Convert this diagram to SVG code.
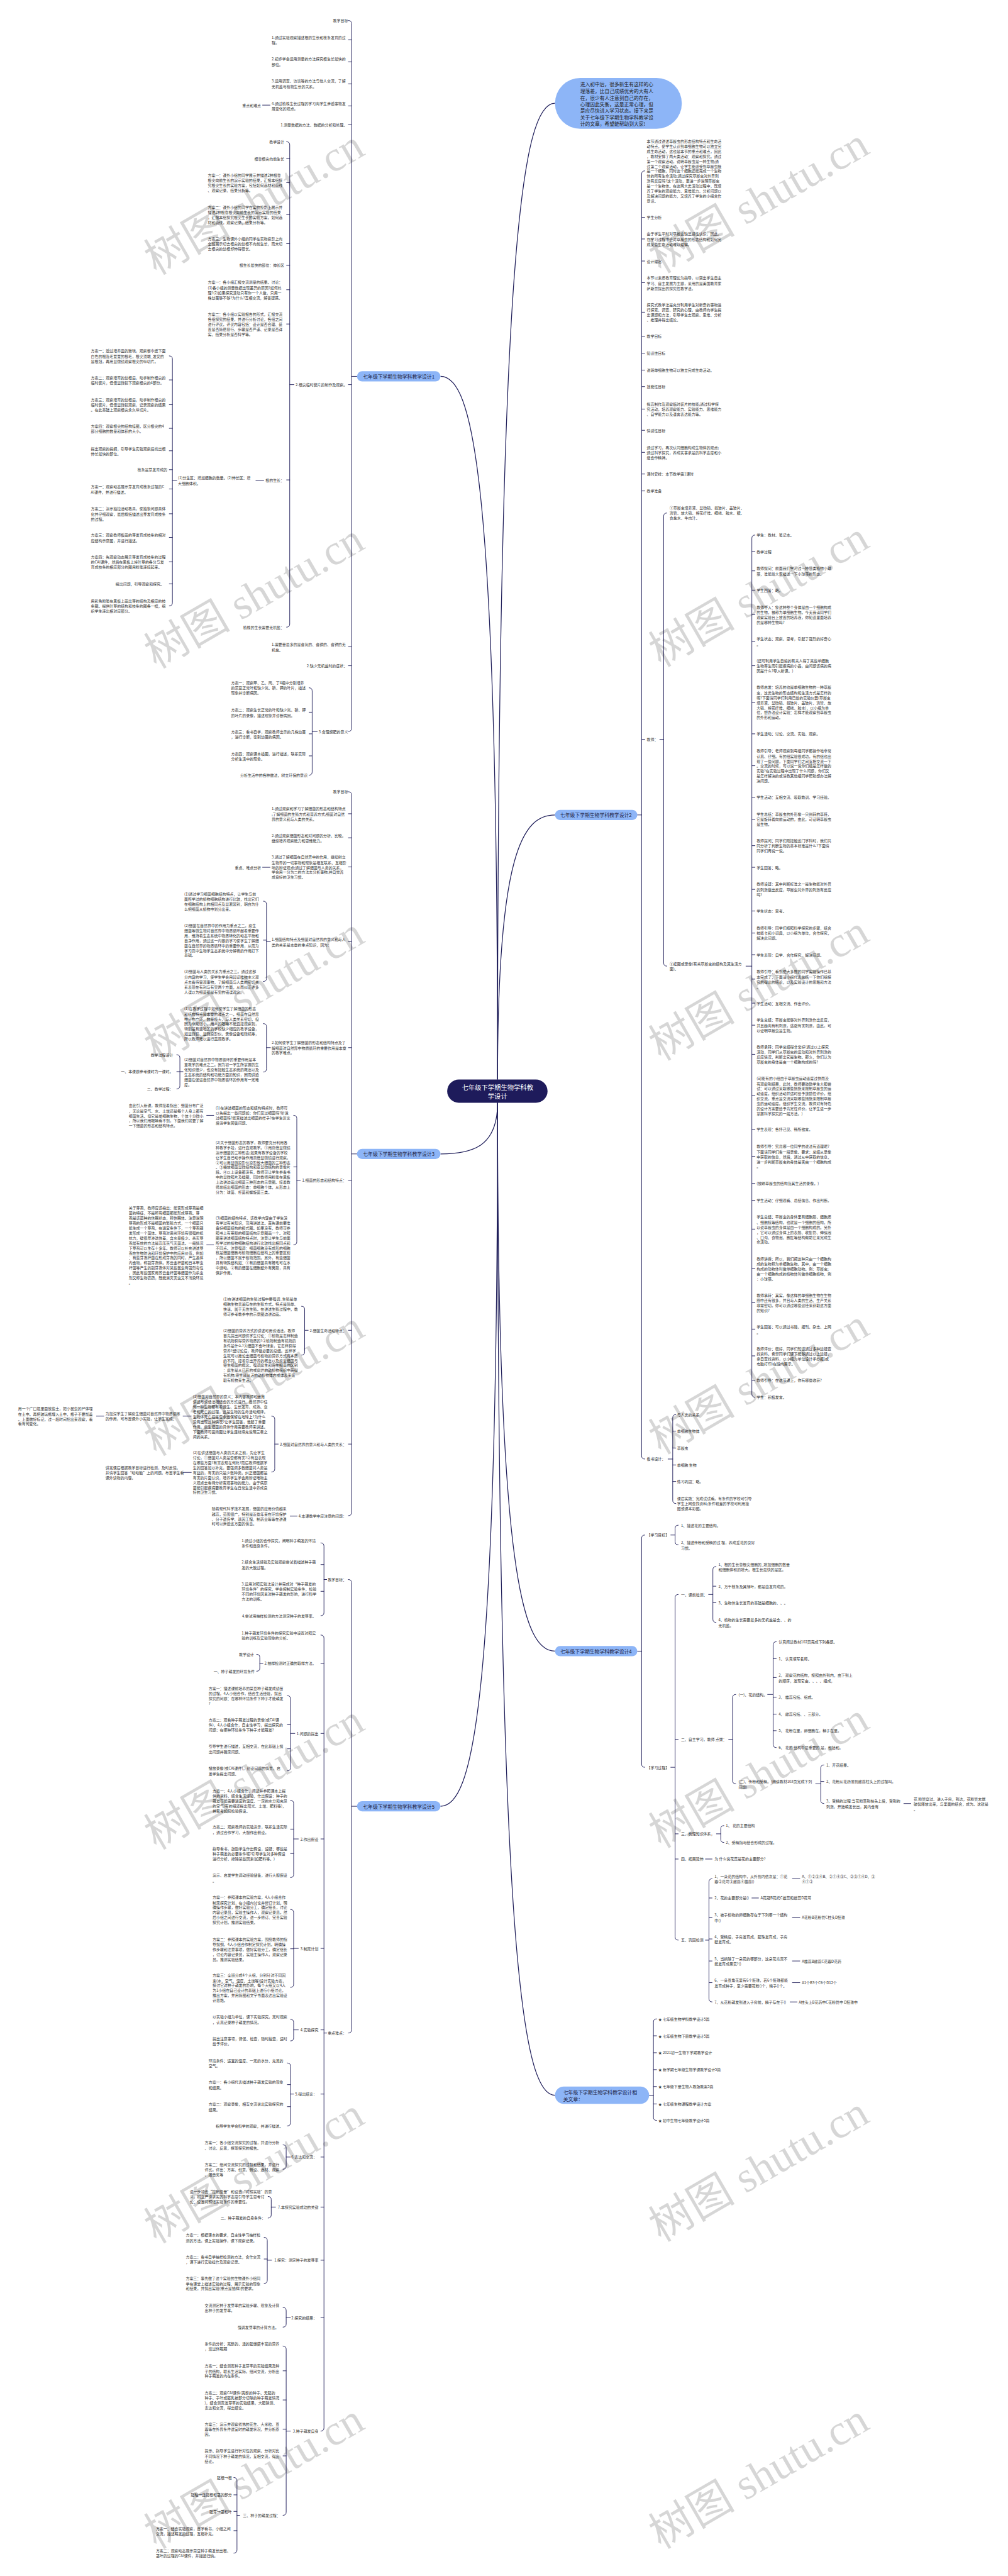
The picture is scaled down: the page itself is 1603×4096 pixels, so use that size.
<svg xmlns="http://www.w3.org/2000/svg" width="1603" height="4096" viewBox="0 0 1603 4096">
<style>
.t{font-family:"Noto Sans CJK SC","Noto Sans",sans-serif;font-size:9.5px;fill:#333;dominant-baseline:central}
.e{text-anchor:end}
.n{font-family:"Noto Sans CJK SC",sans-serif;font-size:12.5px;fill:#1d1d3f;text-anchor:middle;dominant-baseline:central}
.c{font-family:"Noto Sans CJK SC",sans-serif;font-size:16.5px;fill:#fff;text-anchor:middle;dominant-baseline:central}
.i{font-family:"Noto Sans CJK SC",sans-serif;font-size:12.4px;fill:#222;dominant-baseline:central}
.nd{fill:#8db5f7}
.br{fill:none;stroke:#1f1e5a;stroke-width:1.5;stroke-linecap:round}
.cv{fill:none;stroke:#1f1e5a;stroke-width:2}
.wm{font-family:"Liberation Serif","Noto Sans CJK SC",serif;font-size:110px;fill:#000;fill-opacity:0.16;text-anchor:middle;dominant-baseline:central}
</style>
<rect width="1603" height="4096" fill="#fff"/>
<g transform="scale(0.626)">

<g id="connectors">
<path class="cv" d="M1119,956 C1200,956 1264,1201 1264,2742"/>
<path class="cv" d="M1410,262 C1329,262 1264,602 1264,2742"/>
<path class="cv" d="M1410,2070 C1329,2070 1264,2162 1264,2742"/>
<path class="cv" d="M1119,2931 C1200,2931 1264,2913 1264,2801"/>
<path class="cv" d="M1410,4194 C1329,4194 1264,4003 1264,2801"/>
<path class="cv" d="M1119,4588 C1200,4588 1264,4343 1264,2801"/>
<path class="cv" d="M1410,5322 C1329,5322 1264,4977 1264,2801"/>
<path class="br" d="M885,52 Q893,52 893,60 V1850 Q893,1858 885,1858 M885,101 H893 M885,157 H893 M885,213 H893 M885,269 H893 M885,317 H893 M885,977 H893 M885,1643 H893 M885,1691 H893 M893,956 H907"/>
<path class="br" d="M667,267 H686"/>
<path class="br" d="M728,360 Q736,360 736,368 V1585 Q736,1593 728,1593 M728,403 H736 M728,464 H736 M728,545 H736 M728,619 H736 M728,674 H736 M728,736 H736 M728,823 H736 M728,1219 H736 M736,977 H747"/>
<path class="br" d="M650,1220 H670"/>
<path class="br" d="M430,904 Q438,904 438,912 V1531 Q438,1539 430,1539 M430,965 H438 M430,1028 H438 M430,1088 H438 M430,1145 H438 M430,1193 H438 M430,1242 H438 M430,1305 H438 M430,1365 H438 M430,1427 H438 M430,1483 H438 M438,1220 H449"/>
<path class="br" d="M785,1747 Q793,1747 793,1755 V1961 Q793,1969 785,1969 M785,1809 H793 M785,1864 H793 M785,1920 H793 M793,1858 H806"/>
<path class="br" d="M885,2011 Q893,2011 893,2019 V3842 Q893,3850 885,3850 M885,2067 H893 M885,2128 H893 M885,2202 H893 M885,2392 H893 M885,2661 H893 M885,2998 H893 M885,3379 H893 M885,3668 H893 M893,2931 H907"/>
<path class="br" d="M667,2203 H686"/>
<path class="br" d="M669,2289 Q677,2289 677,2297 V2485 Q677,2493 669,2493 M669,2388 H677 M677,2392 H687"/>
<path class="br" d="M669,2600 Q677,2600 677,2608 V2715 Q677,2723 669,2723 M677,2661 H687"/>
<path class="br" d="M449,2679 Q457,2679 457,2687 V2758 Q457,2766 449,2766 M449,2722 H465"/>
<path class="br" d="M746,2833 Q754,2833 754,2841 V3154 Q754,3162 746,3162 M746,2964 H754 M754,2998 H763"/>
<path class="br" d="M525,2833 H543 M525,3162 H543"/>
<path class="br" d="M766,3318 Q774,3318 774,3326 V3434 Q774,3442 766,3442 M774,3379 H783"/>
<path class="br" d="M690,3597 Q698,3597 698,3605 V3731 Q698,3739 690,3739 M698,3668 H707"/>
<path class="br" d="M465,3597 H486 M245,3597 H264 M465,3740 H486 M737,3851 H755"/>
<path class="br" d="M885,4012 Q893,4012 893,4020 V5156 Q893,5164 885,5164 M893,4588 H907"/>
<path class="br" d="M815,3919 Q823,3919 823,3927 V4096 Q823,4104 815,4104 M815,3974 H823 M815,4042 H823 M823,4012 H830"/>
<path class="br" d="M815,4153 Q823,4153 823,4161 V6167 Q823,6175 815,6175 M815,4225 H823 M815,4403 H823 M815,4671 H823 M815,4949 H823 M815,5156 H823 M815,5319 H823 M815,5479 H823 M815,5606 H823 M815,5741 H823 M815,5887 H823 M823,5164 H830"/>
<path class="br" d="M652,4202 Q660,4202 660,4210 V4237 Q660,4245 652,4245 M660,4225 H668"/>
<path class="br" d="M730,4307 Q738,4307 738,4315 V4490 Q738,4498 730,4498 M730,4381 H738 M730,4442 H738 M738,4403 H749"/>
<path class="br" d="M738,4573 Q746,4573 746,4581 V4761 Q746,4769 738,4769 M738,4646 H746 M738,4708 H746 M746,4671 H758"/>
<path class="br" d="M738,4850 Q746,4850 746,4858 V5040 Q746,5048 738,5048 M738,4950 H746 M746,4949 H758"/>
<path class="br" d="M738,5129 Q746,5129 746,5137 V5176 Q746,5184 738,5184 M746,5156 H758"/>
<path class="br" d="M730,5240 Q738,5240 738,5248 V5392 Q738,5400 730,5400 M730,5295 H738 M730,5351 H738 M738,5319 H746"/>
<path class="br" d="M719,5448 Q727,5448 727,5456 V5502 Q727,5510 719,5510 M727,5479 H738"/>
<path class="br" d="M681,5579 Q689,5579 689,5587 V5626 Q689,5634 681,5634 M689,5606 H700"/>
<path class="br" d="M671,5683 Q679,5683 679,5691 V5792 Q679,5800 671,5800 M671,5738 H679 M679,5741 H690"/>
<path class="br" d="M719,5861 Q727,5861 727,5869 V5903 Q727,5911 719,5911 M727,5887 H738"/>
<path class="br" d="M719,5959 Q727,5959 727,5967 V6381 Q727,6389 719,6389 M719,6022 H727 M719,6096 H727 M719,6170 H727 M719,6238 H727 M727,6175 H738"/>
<path class="br" d="M594,6293 Q602,6293 602,6301 V6477 Q602,6485 594,6485 M594,6337 H602 M594,6379 H602 M594,6428 H602 M602,6389 H609"/>
<path class="br" d="M1638,434 Q1630,434 1630,442 V3698 Q1630,3706 1638,3706 M1630,552 H1638 M1630,607 H1638 M1630,663 H1638 M1630,718 H1638 M1630,793 H1638 M1630,854 H1638 M1630,897 H1638 M1630,940 H1638 M1630,982 H1638 M1630,1039 H1638 M1630,1093 H1638 M1630,1149 H1638 M1630,1204 H1638 M1630,1247 H1638 M1630,1878 H1638 M1619,2070 H1630"/>
<path class="br" d="M1694,1303 Q1686,1303 1686,1311 V2446 Q1686,2454 1694,2454 M1676,1878 H1686"/>
<path class="br" d="M1918,1359 Q1910,1359 1910,1367 V3541 Q1910,3549 1918,3549 M1910,1401 H1918 M1910,1450 H1918 M1910,1499 H1918 M1910,1561 H1918 M1910,1629 H1918 M1910,1691 H1918 M1910,1784 H1918 M1910,1864 H1918 M1910,1945 H1918 M1910,2025 H1918 M1910,2081 H1918 M1910,2148 H1918 M1910,2203 H1918 M1910,2259 H1918 M1910,2314 H1918 M1910,2370 H1918 M1910,2425 H1918 M1910,2487 H1918 M1910,2548 H1918 M1910,2604 H1918 M1910,2678 H1918 M1910,2783 H1918 M1910,2869 H1918 M1910,2937 H1918 M1910,3006 H1918 M1910,3049 H1918 M1910,3122 H1918 M1910,3222 H1918 M1910,3309 H1918 M1910,3376 H1918 M1910,3444 H1918 M1910,3506 H1918 M1895,2454 H1910"/>
<path class="br" d="M1717,3593 Q1709,3593 1709,3601 V3811 Q1709,3819 1717,3819 M1709,3635 H1717 M1709,3678 H1717 M1709,3721 H1717 M1709,3763 H1717 M1697,3706 H1709"/>
<path class="br" d="M1638,3899 Q1630,3899 1630,3907 V4481 Q1630,4489 1638,4489 M1619,4194 H1630"/>
<path class="br" d="M1723,3874 Q1715,3874 1715,3882 V3916 Q1715,3924 1723,3924 M1704,3899 H1715"/>
<path class="br" d="M1723,4050 Q1715,4050 1715,4058 V4920 Q1715,4928 1723,4928 M1715,4418 H1723 M1715,4658 H1723 M1715,4722 H1723 M1704,4489 H1715"/>
<path class="br" d="M1819,3979 Q1811,3979 1811,3987 V4113 Q1811,4121 1819,4121 M1811,4029 H1819 M1811,4071 H1819 M1800,4050 H1811"/>
<path class="br" d="M1869,4304 Q1861,4304 1861,4312 V4523 Q1861,4531 1869,4531 M1851,4418 H1861"/>
<path class="br" d="M1972,4170 Q1964,4170 1964,4178 V4431 Q1964,4439 1972,4439 M1964,4213 H1972 M1964,4261 H1972 M1964,4311 H1972 M1964,4354 H1972 M1964,4396 H1972 M1950,4304 H1964"/>
<path class="br" d="M2093,4483 Q2085,4483 2085,4491 V4573 Q2085,4581 2093,4581 M2085,4525 H2093 M2072,4531 H2085 M2296,4581 H2314"/>
<path class="br" d="M1839,4637 Q1831,4637 1831,4645 V4672 Q1831,4680 1839,4680 M1820,4658 H1831 M1792,4722 H1809"/>
<path class="br" d="M1809,4772 Q1801,4772 1801,4780 V5077 Q1801,5085 1809,5085 M1801,4821 H1809 M1801,4870 H1809 M1801,4925 H1809 M1801,4981 H1809 M1801,5036 H1809 M1792,4928 H1801"/>
<path class="br" d="M2013,4772 H2032 M1910,4821 H1927 M2013,4870 H2032 M2013,4981 H2032 M2013,5036 H2032 M2007,5085 H2025"/>
<path class="br" d="M1668,5128 Q1660,5128 1660,5136 V5378 Q1660,5386 1668,5386 M1660,5171 H1668 M1660,5214 H1668 M1660,5257 H1668 M1660,5300 H1668 M1660,5344 H1668 M1649,5322 H1660"/>
</g>

<g id="center"><rect x="1136" y="2742" width="255" height="59" rx="29.5" fill="#1e1b5b"/><text class="c" x="1264" y="2761">七年级下学期生物学科教</text><text class="c" x="1264" y="2783">学设计</text></g>
<g id="intro"><rect class="nd" x="1410" y="198" width="322" height="129" rx="64"/>
<text class="i" x="1474" y="214">进入初中后，很多新生有这样的心<tspan x="1474" dy="16.5">理落差，比自己成绩优秀的大有人</tspan><tspan x="1474" dy="16.5">在，很少有人注意到自己的存在，</tspan><tspan x="1474" dy="16.5">心理因此失衡，这是正常心理，但</tspan><tspan x="1474" dy="16.5">是应尽快进入学习状态。接下来是</tspan><tspan x="1474" dy="16.5">关于七年级下学期生物学科教学设</tspan><tspan x="1474" dy="16.5">计的文章，希望能帮助到大家!</tspan></text></g>
<g id="b1"><rect class="nd" x="907" y="943" width="212" height="26" rx="13"/><text class="n" x="1013" y="956">七年级下学期生物学科教学设计1</text></g>
<g id="b3"><rect class="nd" x="907" y="2918" width="212" height="26" rx="13"/><text class="n" x="1013" y="2931">七年级下学期生物学科教学设计3</text></g>
<g id="b5"><rect class="nd" x="907" y="4575" width="212" height="26" rx="13"/><text class="n" x="1013" y="4588">七年级下学期生物学科教学设计5</text></g>
<g id="b2"><rect class="nd" x="1410" y="2057" width="209" height="26" rx="13"/><text class="n" x="1514" y="2070">七年级下学期生物学科教学设计2</text></g>
<g id="b4"><rect class="nd" x="1410" y="4181" width="209" height="26" rx="13"/><text class="n" x="1514" y="4194">七年级下学期生物学科教学设计4</text></g>
<g id="b6"><rect class="nd" x="1410" y="5300" width="239" height="44" rx="22"/><text class="n" style="text-anchor:start" x="1431" y="5314">七年级下学期生物学科教学设计相<tspan x="1431" dy="16.5">关文章：</tspan></text></g>

<g id="branch1-items">
<text class="t e" x="884" y="52">教学目标</text>
<text class="t" x="690" y="95">1.通过实验观察描述根的生长和枝条发育的过<tspan x="690" dy="12.6">程。</tspan></text>
<text class="t" x="690" y="150">2.初步学会运用测量的方法探究根生长最快的<tspan x="690" dy="12.6">部位。</tspan></text>
<text class="t" x="690" y="206">3.运用调查、访谈等的方法与他人交流，了解<tspan x="690" dy="12.6">无机盐与植物生长的关系。</tspan></text>
<text class="t" x="690" y="262">4.通过植株生长过程的学习向学生渗透事物发<tspan x="690" dy="12.6">展变化的观点。</tspan></text>
<text class="t e" x="663" y="267">重点和难点</text>
<text class="t e" x="882" y="317">1.测量数据的方法、数据的分析和处理。</text>
<text class="t e" x="882" y="977">2.根尖临时装片的制作及观察。</text>
<text class="t" x="690" y="1637">1.需要量最多的是含氮的、含磷的、含钾的无<tspan x="690" dy="12.6">机盐。</tspan></text>
<text class="t e" x="882" y="1691">2.缺少无机盐时的症状：</text>
<text class="t e" x="884" y="1858">3.合理施肥的意义</text>
<text class="t e" x="722" y="360">教学设计</text>
<text class="t e" x="722" y="403">根靠根尖向前生长</text>
<text class="t" x="528" y="445">方案一：课外小组的同学展示并描述2种根靠<tspan x="528" dy="12.6">根尖向前生长的演示实验的结果，汇报本组探</tspan><tspan x="528" dy="12.6">究根尖生长的实验方案，包括如何选材和画线</tspan><tspan x="528" dy="12.6">、观察记录、结果分析等。</tspan></text>
<text class="t" x="528" y="526">方案二：课外小组的同学在实物投影上展示并<tspan x="528" dy="12.6">描述2种根靠根尖向前生长的演示实验的结果</tspan><tspan x="528" dy="12.6">，汇报本组探究根尖生长的实验方案，如何选</tspan><tspan x="528" dy="12.6">材和画线，观察记录、结果分析等。</tspan></text>
<text class="t" x="528" y="606">方案三：生物课外小组的同学在实物投影上向<tspan x="528" dy="12.6">全班展示切去根尖的幼根不向前生长，而未切</tspan><tspan x="528" dy="12.6">去根尖的幼根却伸得很长。</tspan></text>
<text class="t e" x="722" y="674">根生长最快的部位：伸长区</text>
<text class="t" x="528" y="717">方案一：各小组汇报交流测量的结果。讨论：<tspan x="528" dy="12.6">(1)各小组的测量数据出现差异的原因?如何处</tspan><tspan x="528" dy="12.6">理?(2)如果探究活动只有你一个人做，只用一</tspan><tspan x="528" dy="12.6">株幼苗够不够?为什么?互相交流，解答疑惑。</tspan></text>
<text class="t" x="528" y="798">方案二：各小组以实验报告的形式，汇报交流<tspan x="528" dy="12.6">各组探究的结果，并进行分析讨论，各组之间</tspan><tspan x="528" dy="12.6">进行评议。评议内容包括：设计是否合理、装</tspan><tspan x="528" dy="12.6">置是否简便易行、步骤是否严谨、记录是否详</tspan><tspan x="528" dy="12.6">实、结果分析是否科学等。</tspan></text>
<text class="t e" x="722" y="1219">根的生长：</text>
<text class="t e" x="722" y="1593">植株的生长需要无机盐：</text>
<text class="t" x="452" y="1214">(1)分生区：增加细胞的数量。(2)伸长区：增<tspan x="452" dy="12.6">大细胞体积。</tspan></text>
<text class="t" x="231" y="891">方案一：透过培养皿的玻璃，观察餐巾纸下面<tspan x="231" dy="12.6">白色的根及毛茸茸的根毛，根尖顶端_发亮的</tspan><tspan x="231" dy="12.6">是根冠，再用显微镜观察根尖的纵切片。</tspan></text>
<text class="t" x="231" y="959">方案二：观察培育的幼根后，动手制作根尖的<tspan x="231" dy="12.6">临时装片，低倍显微镜下观察根尖的4部分。</tspan></text>
<text class="t" x="231" y="1015">方案三：观察培育的幼根后，动手制作根尖的<tspan x="231" dy="12.6">临时装片，低倍显微镜观察，记录观察的结果</tspan><tspan x="231" dy="12.6">。在此基础上观察根尖永久纵切片。</tspan></text>
<text class="t" x="231" y="1082">方案四：观察根尖的结构挂图，区分根尖的4<tspan x="231" dy="12.6">部分细胞的数量和体积的大小。</tspan></text>
<text class="t" x="231" y="1139">提出观察的提纲，引导学生实验观察后找出根<tspan x="231" dy="12.6">伸长最快的部位。</tspan></text>
<text class="t e" x="425" y="1193">枝条是芽发育成的</text>
<text class="t" x="231" y="1236">方案一：观察动态展示芽发育成枝条过程的C<tspan x="231" dy="12.6">AI课件，并进行描述。</tspan></text>
<text class="t" x="231" y="1292">方案二：演示抽拉活动教具，使抽象问题具体<tspan x="231" dy="12.6">化并仔细观察，最后概括描述出芽发育成枝条</tspan><tspan x="231" dy="12.6">的过程。</tspan></text>
<text class="t" x="231" y="1359">方案三：观察教师板画的芽发育成枝条的相对<tspan x="231" dy="12.6">应结构示意图，并进行描述。</tspan></text>
<text class="t" x="231" y="1414">方案四：先观察动态展示芽发育成枝条的过程<tspan x="231" dy="12.6">的CAI课件，然后在黑板上将叶芽的各分与发</tspan><tspan x="231" dy="12.6">育成枝条的相应部分的图用粉笔连接起来。</tspan></text>
<text class="t e" x="417" y="1483">提出问题，引导观察和探究。</text>
<text class="t" x="231" y="1526">用彩色粉笔在黑板上画出芽的结构及相应的枝<tspan x="231" dy="12.6">条图。提供叶芽的结构和枝条的图各一幅，组</tspan><tspan x="231" dy="12.6">织学生连出相对应部分。</tspan></text>
<text class="t" x="587" y="1734">方案一：观察甲、乙、丙、丁4瓶中分别培养<tspan x="587" dy="12.6">的菜豆正常叶和缺少氮、磷、钾的叶片，描述</tspan><tspan x="587" dy="12.6">现象并诊断病因。</tspan></text>
<text class="t" x="587" y="1803">方案二：观察生长正常的叶和缺少氮、磷、钾<tspan x="587" dy="12.6">的叶片的录像，描述现象并诊断病因。</tspan></text>
<text class="t" x="587" y="1858">方案三：看书自学，观察教师出示的几株幼苗<tspan x="587" dy="12.6">，进行诊断，鉴别幼苗的病因。</tspan></text>
<text class="t" x="587" y="1914">方案四：观察课本插图，进行描述，联系实际<tspan x="587" dy="12.6">分析生活中的现象。</tspan></text>
<text class="t e" x="781" y="1969">分析生活中的各种做法，树立环保的意识</text>
</g>

<g id="branch3-items">
<text class="t e" x="884" y="2011">教学目标</text>
<text class="t" x="690" y="2054">1.通过观察和学习了解细菌的形态和结构特点<tspan x="690" dy="12.6">;了解细菌的生殖方式和营养方式;细菌对自然</tspan><tspan x="690" dy="12.6">界的意义和与人类的关系。</tspan></text>
<text class="t" x="690" y="2122">2.通过观察细菌形态和对问题的分析、比较。<tspan x="690" dy="12.6">继续培养观察能力和思维能力。</tspan></text>
<text class="t" x="690" y="2177">3.通过了解细菌在自然界中的作用，继续树立<tspan x="690" dy="12.6">生物界的一切事物和现象是相互联系、互相影</tspan><tspan x="690" dy="12.6">响的辩证观点;通过了解细菌与人类的关系，</tspan><tspan x="690" dy="12.6">学会用一分为二的方法去分析事物;并自觉养</tspan><tspan x="690" dy="12.6">成良好的卫生习惯。</tspan></text>
<text class="t e" x="663" y="2203">重点、难点分析</text>
<text class="t" x="690" y="2386">1.细菌结构特点及细菌对自然界的意义和与人<tspan x="690" dy="12.6">类的关系是本章的重点知识，因为：</tspan></text>
<text class="t" x="468" y="2270">(1)通过学习细菌细胞结构特点，让学生与前<tspan x="468" dy="12.6">面所学过的植物细胞结构进行比较，找出它们</tspan><tspan x="468" dy="12.6">在细胞结构上的相同点及显著区别，明白为什</tspan><tspan x="468" dy="12.6">么把细菌从植物中划分出来。</tspan></text>
<text class="t" x="468" y="2350">(2)细菌在自然界中的作用为重点之二。腐生<tspan x="468" dy="12.6">细菌等微生物对自然界中物质循环起着重要作</tspan><tspan x="468" dy="12.6">用，维持着生态系统中物质转化的动态平衡和</tspan><tspan x="468" dy="12.6">自净作用，通过这一内容的学习使学生了解细</tspan><tspan x="468" dy="12.6">菌在自然界的物质循环中的重要作用，从而为</tspan><tspan x="468" dy="12.6">学习高中生物学生态系统中分解者的作用打下</tspan><tspan x="468" dy="12.6">基础。</tspan></text>
<text class="t" x="468" y="2468">(3)细菌与人类的关系为重点之三。通过这部<tspan x="468" dy="12.6">分内容的学习，使学生学会用辩证唯物主义观</tspan><tspan x="468" dy="12.6">点去看待客观事物，了解细菌与人类的密切关</tspan><tspan x="468" dy="12.6">系表现在有利与有害两个方面，从而纠正许多</tspan><tspan x="468" dy="12.6">人误以为细菌都是有害的错误观念。</tspan></text>
<text class="t" x="690" y="2648">2.如何使学生了解细菌的形态和结构特点及了<tspan x="690" dy="12.6">解细菌对自然界中物质循环的重要作用是本章</tspan><tspan x="690" dy="12.6">的教学难点。</tspan></text>
<text class="t" x="468" y="2562">(1)在教学过程中如何使学生了解细菌的形态<tspan x="468" dy="12.6">和结构特点是本章的难点之一。细菌在自然界</tspan><tspan x="468" dy="12.6">中分布广泛，数量极大，与人类关系密切，但</tspan><tspan x="468" dy="12.6">因为非常微小，用人的眼睛不能直接观察到，</tspan><tspan x="468" dy="12.6">特别是有些地区的学校缺少相应的教学设备，</tspan><tspan x="468" dy="12.6">如显微镜、显微投影仪、录像设备和微机等，</tspan><tspan x="468" dy="12.6">所以教师难以进行直观教学。</tspan></text>
<text class="t" x="468" y="2691">(2)细菌对自然界中物质循环的重要作用是本<tspan x="468" dy="12.6">章教学的难点之二。因为初一学生所掌握的生</tspan><tspan x="468" dy="12.6">化知识很少，也没有接触生态系统的概念以及</tspan><tspan x="468" dy="12.6">生态系统的结构和功能方面的知识，因而讲透</tspan><tspan x="468" dy="12.6">细菌在促进自然界中物质循环的作用有一定难</tspan><tspan x="468" dy="12.6">度。</tspan></text>
<text class="t e" x="440" y="2679">教学过程设计</text>
<text class="t e" x="440" y="2722">一、本课题参考课时为一课时。</text>
<text class="t e" x="440" y="2766">二、教学过程：</text>
<text class="t e" x="880" y="2998">1.细菌的形态和结构特点：</text>
<text class="t" x="548" y="2814">(1)在讲述细菌的形态和结构特点时，教师可<tspan x="548" dy="12.6">以先提出一些问题如：你们见过细菌吗?听说</tspan><tspan x="548" dy="12.6">过细菌吗?能否描述出细菌的样子?在学生议论</tspan><tspan x="548" dy="12.6">后请学生回答问题。</tspan></text>
<text class="t" x="327" y="2808">由此引入新课，教师接着指出：细菌分布广泛<tspan x="327" dy="12.6">，无论是空气、水、土壤还是每个人身上都有</tspan><tspan x="327" dy="12.6">细菌生活。但它是单细胞生物，个体十分微小</tspan><tspan x="327" dy="12.6">，所以我们用眼睛看不到，下面我们就要了解</tspan><tspan x="327" dy="12.6">一下细菌的形态和结构特点。</tspan></text>
<text class="t" x="548" y="2901">(2)关于细菌形态的教学，教师要充分利用各<tspan x="548" dy="12.6">种教学手段，进行直观教学。①用高倍显微镜</tspan><tspan x="548" dy="12.6">演示细菌的三种形态;如果有教学设备的学校</tspan><tspan x="548" dy="12.6">让学生自己动手操作用高倍显微镜进行观察。</tspan><tspan x="548" dy="12.6">②可以用显微投影仪投影放大细菌的三种形态</tspan><tspan x="548" dy="12.6">。③播放细菌显微结构和亚显微结构的录像片</tspan><tspan x="548" dy="12.6">段。④以上设备都没有，教师可让学生参看书</tspan><tspan x="548" dy="12.6">中的显微照片及插图，同时教师用粉笔在黑板</tspan><tspan x="548" dy="12.6">上边讲边画出细菌三种形态的示意图。接着教</tspan><tspan x="548" dy="12.6">师总结出细菌的形态：单细胞个体，从形态上</tspan><tspan x="548" dy="12.6">分为：球菌、杆菌和螺旋菌三类。</tspan></text>
<text class="t" x="548" y="3093">(3)细菌的结构特点，该教学内容由于学生没<tspan x="548" dy="12.6">有学过有关知识，可用讲述法。首先课前要准</tspan><tspan x="548" dy="12.6">备好细菌结构的模式图。如果没有，教师可参</tspan><tspan x="548" dy="12.6">照书上有荚膜的细菌结构示意图画一个。对照</tspan><tspan x="548" dy="12.6">图来讲述细菌结构特点时，注意让学生与前面</tspan><tspan x="548" dy="12.6">所学过的植物细胞结构进行比较找出相同点和</tspan><tspan x="548" dy="12.6">不同点。注意强调：细菌细胞没有成形的细胞</tspan><tspan x="548" dy="12.6">核是细菌细胞与植物细胞在结构上的重要区别</tspan><tspan x="548" dy="12.6">，所以细菌不属于植物范围。另外，有些细菌</tspan><tspan x="548" dy="12.6">具有特殊结构如：①有的细菌具有鞭毛可在水</tspan><tspan x="548" dy="12.6">中游动。②有的细菌在细胞壁外有荚膜，具有</tspan><tspan x="548" dy="12.6">保护作用。</tspan></text>
<text class="t" x="327" y="3068">关于芽孢，教师应该指出：能否形成芽孢是细<tspan x="327" dy="12.6">菌的特征，不是所有细菌都能形成芽孢。芽</tspan><tspan x="327" dy="12.6">孢是该菌种的休眠状态，称休眠体。注意说明</tspan><tspan x="327" dy="12.6">芽孢的形成不是细菌的繁殖方式，一个细菌只</tspan><tspan x="327" dy="12.6">能生成一个芽孢，在适宜条件下，一个芽孢萌</tspan><tspan x="327" dy="12.6">发形成一个菌体。芽孢对恶劣环境有很强的抵</tspan><tspan x="327" dy="12.6">抗力，壁很厚渗透性差，含水量极少。杀灭芽</tspan><tspan x="327" dy="12.6">孢最有效的方法是高压蒸气灭菌法。一般情况</tspan><tspan x="327" dy="12.6">下芽孢可以生存十多年。教师可以补充讲述芽</tspan><tspan x="327" dy="12.6">孢在生物防治和环境保护中的应用价值，例如</tspan><tspan x="327" dy="12.6">：有些芽孢杆菌在形成芽孢的同时，产生晶体</tspan><tspan x="327" dy="12.6">内含物，称副芽孢体。苏云金杆菌和日本甲虫</tspan><tspan x="327" dy="12.6">杆菌等产生的副芽孢体对某些昆虫有强烈毒性</tspan><tspan x="327" dy="12.6">，因此有些国家用苏云金杆菌等细菌作为杀虫</tspan><tspan x="327" dy="12.6">剂又称生物农药，既能消灭害虫又不污染环境</tspan><tspan x="327" dy="12.6">。</tspan></text>
<text class="t e" x="880" y="3379">2.细菌生命活动特点：</text>
<text class="t" x="567" y="3299">(1)在讲述细菌的生殖过程中要强调_生殖是单<tspan x="567" dy="12.6">细胞生物普遍存在的生殖方式。特点是简单、</tspan><tspan x="567" dy="12.6">快速，属于无性生殖。在讲述生殖过程中，教</tspan><tspan x="567" dy="12.6">师可参考教参中的示意图边讲边画。</tspan></text>
<text class="t" x="567" y="3379">(2)细菌的营养方式的讲述可用谈话法，教师<tspan x="567" dy="12.6">首先提出问题供学生讨论：①植物是怎样制造</tspan><tspan x="567" dy="12.6">有机物获得营养物质的?②植物制造有机物的</tspan><tspan x="567" dy="12.6">条件是什么?③细菌不含叶绿素，它怎样获得</tspan><tspan x="567" dy="12.6">营养?经讨论后，教师做必要的总结。这样学</tspan><tspan x="567" dy="12.6">生就可以推论出细菌与植物的营养方式有本质</tspan><tspan x="567" dy="12.6">的不同。接着引出异养的概念以及腐生细菌与</tspan><tspan x="567" dy="12.6">寄生细菌的概念。强调腐生和寄生细菌的区别</tspan><tspan x="567" dy="12.6">：腐生是从已死的或腐烂的动植物组织中获得</tspan><tspan x="567" dy="12.6">有机物;寄生是从活的动植物体内或体表来吸</tspan><tspan x="567" dy="12.6">取有机物来生活。</tspan></text>
<text class="t e" x="880" y="3668">3.细菌对自然界的意义和与人类的关系：</text>
<text class="t" x="490" y="3547">(1)细菌对自然界的意义：本内容教师可运用<tspan x="490" dy="12.6">讲述与谈话法相结合的方式进行。自然界中任</tspan><tspan x="490" dy="12.6">何一种生物都有着诞生、生长发育、成熟、衰</tspan><tspan x="490" dy="12.6">老和死亡的过程，这是生物的生命活动规律。</tspan><tspan x="490" dy="12.6">生物体死亡后是否永远保留在地球上?为什么</tspan><tspan x="490" dy="12.6">没有出现这种情况?让学生回答，谁起了重要</tspan><tspan x="490" dy="12.6">作用。腐生细菌的具体作用需要教师来讲述。</tspan><tspan x="490" dy="12.6">下面教师可画简图让学生连线填充说明三者之</tspan><tspan x="490" dy="12.6">间的关系。</tspan></text>
<text class="t" x="268" y="3590">为加深学生了解腐生细菌对自然界中物质循环<tspan x="268" dy="12.6">的作用，可布置课外小实验，让学生完成：</tspan></text>
<text class="t" x="46" y="3578">用一个广口瓶里面放些土，把小昆虫的尸体埋<tspan x="46" dy="12.6">在土中。再把玻璃瓶埋入土中，瓶子不要加盖</tspan><tspan x="46" dy="12.6">。上面做好标记，过一段时间挖出来观察，看</tspan><tspan x="46" dy="12.6">看有何变化。</tspan></text>
<text class="t" x="490" y="3689">(2)在讲述细菌与人类的关系之前，先让学生<tspan x="490" dy="12.6">讨论，①细菌对人类是否都有害?②有益表现</tspan><tspan x="490" dy="12.6">在哪些方面?有害表现在何处?而后教师根据学</tspan><tspan x="490" dy="12.6">生的回答加以补充，要强调多数细菌对人类是</tspan><tspan x="490" dy="12.6">有益的，有害的只是少数种类。纠正细菌都是</tspan><tspan x="490" dy="12.6">有害的片面认识，培养学生学会用辩证唯物主</tspan><tspan x="490" dy="12.6">义观点去看待分析客观事物的能力。由于病原</tspan><tspan x="490" dy="12.6">菌能引起疾病要教育学生在日常生活中养成良</tspan><tspan x="490" dy="12.6">好的卫生习惯。</tspan></text>
<text class="t" x="268" y="3727">讲完课后根据教学目标进行检测，及时反馈。<tspan x="268" dy="12.6">并请学生回答“动动脑”上的问题。布置学生看</tspan><tspan x="268" dy="12.6">课外读物的内容。</tspan></text>
<text class="t e" x="880" y="3850">4.本课教学中应注意的问题：</text>
<text class="t" x="538" y="3832">随着现代科学技术发展，细菌的应用价值越来<tspan x="538" dy="12.6">越高，范围很广，特别是近些年来在环境保护</tspan><tspan x="538" dy="12.6">、分子遗传学、基因工程、制药业等等在讲课</tspan><tspan x="538" dy="12.6">时可以渗透这方面的信息。</tspan></text>
</g>

<g id="branch5-items">
<text class="t e" x="880" y="4012">教学目标：</text>
<text class="t" x="614" y="3913">1.通过小组的合作探究，阐明种子萌发的环境<tspan x="614" dy="12.6">条件和自身条件。</tspan></text>
<text class="t" x="614" y="3968">2.结合生活经验及实验观察尝试着描述种子萌<tspan x="614" dy="12.6">发的大致过程。</tspan></text>
<text class="t" x="614" y="4023">3.运用对照实验法设计并完成对“种子萌发的<tspan x="614" dy="12.6">环境条件”的探究，学会控制实验条件，检验</tspan><tspan x="614" dy="12.6">不同的环境因素对种子萌发的影响，进行科学</tspan><tspan x="614" dy="12.6">方法的训练。</tspan></text>
<text class="t e" x="803" y="4104">4.尝试用抽样检测的方法测定种子的发芽率。</text>
<text class="t e" x="880" y="5164">重点难点：</text>
<text class="t" x="614" y="4147">1.种子萌发环境条件的探究实验中设置对照实<tspan x="614" dy="12.6">验的训练及实验现象的分析。</tspan></text>
<text class="t e" x="803" y="4225">2.抽样检测时正确的取样方法。</text>
<text class="t e" x="645" y="4202">教学设计</text>
<text class="t e" x="647" y="4245">一、种子萌发的环境条件</text>
<text class="t e" x="809" y="4403">1.问题的提出</text>
<text class="t" x="530" y="4288">方案一：描述课前培养的菜豆种子萌发成幼苗<tspan x="530" dy="12.6">的过程，4人小组合作，结合生活经验，提出</tspan><tspan x="530" dy="12.6">探究的问题：在哪种环境条件下种子才能萌发</tspan><tspan x="530" dy="12.6">?</tspan></text>
<text class="t" x="530" y="4368">方案二：观看种子萌发过程的录像(或CAI课<tspan x="530" dy="12.6">件)，4人小组合作，自主性学习，提出探究的</tspan><tspan x="530" dy="12.6">问题：在哪种环境条件下种子才能萌发?</tspan></text>
<text class="t" x="530" y="4436">引导学生进行描述，互相交流，在此基础上提<tspan x="530" dy="12.6">出问题并确定问题。</tspan></text>
<text class="t" x="530" y="4492">播放录像(或CAI课件)，创设问题的情景，启<tspan x="530" dy="12.6">发学生提出问题。</tspan></text>
<text class="t e" x="809" y="4671">2.作出假设</text>
<text class="t" x="540" y="4548">方案一：4人小组合作，阅读并参照课本上提<tspan x="540" dy="12.6">供的资料，结合生活经验，作出假设：种子的</tspan><tspan x="540" dy="12.6">萌发可能需要适宜的温度、一定的水分和充足</tspan><tspan x="540" dy="12.6">的空气(有的组还提出阳光、土壤、肥料等)，</tspan><tspan x="540" dy="12.6">并思考如何检验假设。</tspan></text>
<text class="t" x="540" y="4640">方案二：观察教师的实验演示，联系生活实际<tspan x="540" dy="12.6">，通过合作学习，大胆作出假设。</tspan></text>
<text class="t" x="540" y="4695">指导看书，鼓励学生作出假设，设疑：哪些是<tspan x="540" dy="12.6">种子萌发的必要条件呢?引导学生对多种假设</tspan><tspan x="540" dy="12.6">进行分析、排除某些因素(如肥料等。)</tspan></text>
<text class="t" x="540" y="4763">演示、启发学生调动经验储备，进行大胆假设<tspan x="540" dy="12.6">。</tspan></text>
<text class="t e" x="809" y="4949">3.制定计划</text>
<text class="t" x="540" y="4819">方案一：参照课本的实验方案，4人小组合作<tspan x="540" dy="12.6">制定探究计划，在小组内讨论并修订计划。明</tspan><tspan x="540" dy="12.6">确操作步骤，做好实验分工，确定组长，讨论</tspan><tspan x="540" dy="12.6">内容记录员，实验主操作人，观察记录员。然</tspan><tspan x="540" dy="12.6">后小组之间进行交流，进一步修订、完善实验</tspan><tspan x="540" dy="12.6">探究计划。推测实验结果。</tspan></text>
<text class="t" x="540" y="4925">方案二：参照课本的实验方案，围绕教师的指<tspan x="540" dy="12.6">导提纲，4人小组合作制定探究计划。明确操</tspan><tspan x="540" dy="12.6">作步骤和注意事项，做好实验分工，确定组长</tspan><tspan x="540" dy="12.6">，讨论内容记录员，实验主操作人，观察记录</tspan><tspan x="540" dy="12.6">员。推测实验结果。</tspan></text>
<text class="t" x="540" y="5017">方案三：全班分成4个大组，分别针对不同因<tspan x="540" dy="12.6">素(水、空气、温度、土壤等)设计实验方案，</tspan><tspan x="540" dy="12.6">探讨它对种子萌发的影响，每个大组又以4人</tspan><tspan x="540" dy="12.6">为1小组在自己设计的基础上进行小组讨论，</tspan><tspan x="540" dy="12.6">推出方案，并用简图和文字书面表达出实验设</tspan><tspan x="540" dy="12.6">计思路。</tspan></text>
<text class="t e" x="809" y="5156">4.实验探究</text>
<text class="t" x="540" y="5123">以实验小组为单位，课下实验探究，定时观察<tspan x="540" dy="12.6">，认真记录种子萌发的情况。</tspan></text>
<text class="t" x="540" y="5178">提出注意事项，督促、检查，随时抽查，适时<tspan x="540" dy="12.6">给予评价。</tspan></text>
<text class="t e" x="805" y="5319">5.得出结论：</text>
<text class="t" x="530" y="5234">环境条件：适宜的温度、一定的水分、充足的<tspan x="530" dy="12.6">空气。</tspan></text>
<text class="t" x="530" y="5289">方案一：各小组代表描述种子萌发实验的现象<tspan x="530" dy="12.6">和结果。</tspan></text>
<text class="t" x="530" y="5345">方案二：观察录像，相互交流说出实验探究的<tspan x="530" dy="12.6">结果。</tspan></text>
<text class="t e" x="719" y="5400">指导学生学会科学的观察，并进行描述。</text>
<text class="t e" x="805" y="5479">6.表达和交流：</text>
<text class="t" x="520" y="5442">方案一：各小组交流探究的过程，并进行分析<tspan x="520" dy="12.6">、讨论、反思，撰写探究的报告。</tspan></text>
<text class="t" x="520" y="5497">方案二：组间交流探究的过程和结果，并进行<tspan x="520" dy="12.6">评比。评出：方案、创意、假设、选材、观察</tspan><tspan x="520" dy="12.6">、报告奖等</tspan></text>
<text class="t e" x="809" y="5606">7.本探究实验成功的关键</text>
<text class="t" x="482" y="5566">进一步领会“控制变量”和设置“对照实验”的意<tspan x="482" dy="12.6">义，树立严谨求实的科学态度引导学生思考讨</tspan><tspan x="482" dy="12.6">论：设置对照组实验条件的重要性。</tspan></text>
<text class="t e" x="674" y="5634">二、种子萌发的自身条件：</text>
<text class="t e" x="809" y="5741">1.探究：测定种子的发芽率</text>
<text class="t" x="472" y="5677">方案一：根据课本的要求，自主性学习抽样检<tspan x="472" dy="12.6">测的方法。课上实验操作，课下观察记录。</tspan></text>
<text class="t" x="472" y="5732">方案二：看书自学抽样检测的方法，合作交流<tspan x="472" dy="12.6">，课下进行实验操作及观察记录。</tspan></text>
<text class="t" x="472" y="5787">方案三：事先做了这个实验的生物课外小组同<tspan x="472" dy="12.6">学在课堂上描述实验的过程，展示实验的现象</tspan><tspan x="472" dy="12.6">和结果，并提出实验(重点是抽样)的要求。</tspan></text>
<text class="t e" x="805" y="5887">2.探究的结果：</text>
<text class="t" x="520" y="5855">交流测定种子发芽率的实验步骤、现象及计算<tspan x="520" dy="12.6">出种子的发芽率。</tspan></text>
<text class="t e" x="708" y="5911">强调发芽率的计算方法。</text>
<text class="t e" x="809" y="6175">3.种子萌发自身</text>
<text class="t" x="520" y="5953">条件的分析：完整的、活的胚储藏丰富的营养<tspan x="520" dy="12.6">，渡过休眠期</tspan></text>
<text class="t" x="520" y="6009">方案一：结合测定种子发芽率的实验结果及种<tspan x="520" dy="12.6">子的结构，联系生活实际，组间交流，分析出</tspan><tspan x="520" dy="12.6">种子萌发的内在条件。</tspan></text>
<text class="t" x="520" y="6077">方案二：观察CAI课件(完整的种子、无胚的<tspan x="520" dy="12.6">种子、子叶或胚乳被部分切除的种子萌发情况</tspan><tspan x="520" dy="12.6">)，结合测定发芽率的实验结果，大胆猜测、</tspan><tspan x="520" dy="12.6">表达和交流，得出结论。</tspan></text>
<text class="t" x="520" y="6157">方案三：演示并观察煮熟的花生、大米粒、豆<tspan x="520" dy="12.6">瓣等在外界条件适宜时的萌发状况，并分析原</tspan><tspan x="520" dy="12.6">因。</tspan></text>
<text class="t" x="520" y="6225">提示、指导学生进行针对性的观察、分析对比<tspan x="520" dy="12.6">不同情况下种子萌发的情况，互相交流，得出</tspan><tspan x="520" dy="12.6">结论。</tspan></text>
<text class="t e" x="712" y="6389">三、种子的萌发过程：</text>
<text class="t e" x="589" y="6293">胚根→根</text>
<text class="t e" x="589" y="6337">胚轴→连接根和茎的部分</text>
<text class="t e" x="589" y="6379">胚芽→茎和叶</text>
<text class="t" x="396" y="6422">方案一：结合实验观察，自学看书，小组之间<tspan x="396" dy="12.6">交流，描述萌发的过程，互相补充。</tspan></text>
<text class="t" x="396" y="6478">方案二：观察动态展示菜豆种子萌发长出根、<tspan x="396" dy="12.6">茎叶的过程的CAI课件，并描述归纳。</tspan></text>
</g>

<g id="branch2-items">
<text class="t" x="1643" y="358">本节通过讲述草履虫的形态结构特点和生命活<tspan x="1643" dy="12.6">动特点，使学生认识到单细胞生物可以独立完</tspan><tspan x="1643" dy="12.6">成生命活动，这也是本节的重点和难点，因此</tspan><tspan x="1643" dy="12.6">，教材安排了两大类活动：观察和探究。通过</tspan><tspan x="1643" dy="12.6">第一个观察活动，说明草履虫是一种生物;通</tspan><tspan x="1643" dy="12.6">过第二个观察活动，让学生能感受到草履虫既</tspan><tspan x="1643" dy="12.6">是一个细胞，同时这个细胞还能完成一个生物</tspan><tspan x="1643" dy="12.6">体的所有生命活动;通过探究草履虫对外界刺</tspan><tspan x="1643" dy="12.6">激有反应吗?这个活动，更进一步说明草履虫</tspan><tspan x="1643" dy="12.6">是一个生物体。在这两大类活动过程中，既培</tspan><tspan x="1643" dy="12.6">养了学生的观察能力、思维能力、分析问题以</tspan><tspan x="1643" dy="12.6">及解决问题的能力，又培养了学生的小组合作</tspan><tspan x="1643" dy="12.6">意识。</tspan></text>
<text class="t" x="1643" y="552">学生分析</text>
<text class="t" x="1643" y="594">由于学生平时对草履虫缺乏感性认识，因此，<tspan x="1643" dy="12.6">在学习过程中会对草履虫的形态结构和如何完</tspan><tspan x="1643" dy="12.6">成某些生命活动难以理解。</tspan></text>
<text class="t" x="1643" y="663">设计理念</text>
<text class="t" x="1643" y="706">本节以素质教育理论为指导，以突出学生自主<tspan x="1643" dy="12.6">学习、自主发展为主题，采用的是美国教育家</tspan><tspan x="1643" dy="12.6">萨斯曼提出的探究性教学法。</tspan></text>
<text class="t" x="1643" y="774">探究式教学法是充分利用学生对新奇的事物进<tspan x="1643" dy="12.6">行探索、调查、研究的心理，由教师向学生提</tspan><tspan x="1643" dy="12.6">出课题和方法，引导学生去观察、思维、分析</tspan><tspan x="1643" dy="12.6">、推理并得出结论。</tspan></text>
<text class="t" x="1643" y="854">教学目标</text>
<text class="t" x="1643" y="897">知识性目标</text>
<text class="t" x="1643" y="940">说明单细胞生物可以独立完成生命活动。</text>
<text class="t" x="1643" y="982">技能性目标</text>
<text class="t" x="1643" y="1026">提高制作及观察临时装片的技能;通过科学探<tspan x="1643" dy="12.6">究活动，培养观察能力、实验能力、思维能力</tspan><tspan x="1643" dy="12.6">、自学能力以及语言表达能力等。</tspan></text>
<text class="t" x="1643" y="1093">情感性目标</text>
<text class="t" x="1643" y="1136">通过学习，再次认同细胞构成生物体的观点;<tspan x="1643" dy="12.6">通过科学探究，养成实事求是的科学态度和小</tspan><tspan x="1643" dy="12.6">组合作精神。</tspan></text>
<text class="t" x="1643" y="1204">课时安排：本节教学需1课时</text>
<text class="t" x="1643" y="1247">教学准备</text>
<text class="t" x="1643" y="1878">教师：</text>
<text class="t" x="1701" y="1290">①草履虫培养液、显微镜、载玻片、盖玻片、<tspan x="1701" dy="12.6">滴管、放大镜、棉花纤维、细线、胶水、糖、</tspan><tspan x="1701" dy="12.6">食盐水、牛肉汁。</tspan></text>
<text class="t" x="1701" y="2448">②挂图或录像(有关草履虫的结构及其生活方<tspan x="1701" dy="12.6">面)。</tspan></text>
<text class="t" x="1922" y="1359">学生：教材、笔记本。</text>
<text class="t" x="1922" y="1401">教学过程</text>
<text class="t" x="1922" y="1444">教师提问：前面我们学习过一种藻类植物小球<tspan x="1922" dy="12.6">藻，谁能给大家描述一下小球藻的形态。</tspan></text>
<text class="t" x="1922" y="1499">学生回答：略。</text>
<text class="t" x="1922" y="1542">教师导入：象这种整个身体是由一个细胞构成<tspan x="1922" dy="12.6">的生物，被称为单细胞生物。今天我请同学们</tspan><tspan x="1922" dy="12.6">观察实验台上放置的培养液，你知道里面培养</tspan><tspan x="1922" dy="12.6">的是哪种生物吗?</tspan></text>
<text class="t" x="1922" y="1623">学生状态：观察、思考，引起了强烈的好奇心<tspan x="1922" dy="12.6">。</tspan></text>
<text class="t" x="1922" y="1678">(还可利用学生自编的有关人得了某些单细胞<tspan x="1922" dy="12.6">生物寄生而引起疾病的小品，由问题该病的病</tspan><tspan x="1922" dy="12.6">因是什么?导入新课。)</tspan></text>
<text class="t" x="1922" y="1746">教师启发：培养的也是单细胞生物的一种草履<tspan x="1922" dy="12.6">虫，这类生物的形态结构和生活方式是怎样的</tspan><tspan x="1922" dy="12.6">呢?下面请同学们利用已给的实验仪器(草履虫</tspan><tspan x="1922" dy="12.6">培养液、显微镜、载玻片、盖玻片、滴管、放</tspan><tspan x="1922" dy="12.6">大镜、棉花纤维、细线、胶水)，以小组为单</tspan><tspan x="1922" dy="12.6">位，想办法设计实验：怎样才能观察到草履虫</tspan><tspan x="1922" dy="12.6">的外形和运动。</tspan></text>
<text class="t" x="1922" y="1864">学生活动：讨论、交流、实验、观察。</text>
<text class="t" x="1922" y="1907">教师引导：老师观察到每组同学都操作地非常<tspan x="1922" dy="12.6">认真、仔细。有的组实验很成功，有的组也出</tspan><tspan x="1922" dy="12.6">现了一些问题，下面同学们之间互相交流一下</tspan><tspan x="1922" dy="12.6">。交流的时候，可以说一说你们组是怎样做的</tspan><tspan x="1922" dy="12.6">实验?在实验过程中出现了什么问题，你们又</tspan><tspan x="1922" dy="12.6">是怎样解决的或请教其他组同学帮助想办法解</tspan><tspan x="1922" dy="12.6">决问题。</tspan></text>
<text class="t" x="1922" y="2025">学生活动：互相交流、吸取教训、学习经验。</text>
<text class="t" x="1922" y="2068">学生总结：草履虫的外形像一只倒转的草鞋，<tspan x="1922" dy="12.6">它是旋转着向前运动的，由此，可证明草履虫</tspan><tspan x="1922" dy="12.6">是生物。</tspan></text>
<text class="t" x="1922" y="2135">教师提问：同学们刚接触这门学科时，我们共<tspan x="1922" dy="12.6">同分析了判断生物的基本标准是什么?下面请</tspan><tspan x="1922" dy="12.6">同学们再说一说。</tspan></text>
<text class="t" x="1922" y="2203">学生回答：略。</text>
<text class="t" x="1922" y="2246">教师设疑：其中判断标准之一是生物能对外界<tspan x="1922" dy="12.6">的刺激做出反应，草履虫对外界的刺激有反应</tspan><tspan x="1922" dy="12.6">吗?</tspan></text>
<text class="t" x="1922" y="2314">学生状态：思考。</text>
<text class="t" x="1922" y="2357">教师引导：同学们按照科学探究的步骤，结合<tspan x="1922" dy="12.6">技能卡和小词典，以小组为单位，合作探究，</tspan><tspan x="1922" dy="12.6">解决此问题。</tspan></text>
<text class="t" x="1922" y="2425">学生表现：自学、合作探究、解决问题。</text>
<text class="t" x="1922" y="2468">教师引导：看到绝大多数的同学实验操作已基<tspan x="1922" dy="12.6">本完成了，下面请小组代表总结一下你们组探</tspan><tspan x="1922" dy="12.6">究后得出的结论，以及实验设计的思路和方法</tspan><tspan x="1922" dy="12.6">。</tspan></text>
<text class="t" x="1922" y="2548">学生活动：互相交流、作出评价。</text>
<text class="t" x="1922" y="2591">学生总结：草履虫能够对外界刺激作出反应，<tspan x="1922" dy="12.6">并且趋向有利刺激，逃避有害刺激，由此，可</tspan><tspan x="1922" dy="12.6">以证明草履虫是生物。</tspan></text>
<text class="t" x="1922" y="2659">教师承转：同学总结得非常好!通过以上探究<tspan x="1922" dy="12.6">活动，同学们从草履虫的运动和对外界刺激的</tspan><tspan x="1922" dy="12.6">反应情况，判断出它是生物。那么，你们认为</tspan><tspan x="1922" dy="12.6">草履虫的身体是由一个细胞构成的吗?</tspan></text>
<text class="t" x="1922" y="2739">(可能有的小组由于草履虫运动速度过快而没<tspan x="1922" dy="12.6">有观察到结果，此时，教师要鼓励学生大胆尝</tspan><tspan x="1922" dy="12.6">试：可以通过采取哪些措施来限制草履虫的运</tspan><tspan x="1922" dy="12.6">动速度。组织活动并适时给予鼓励性评价。组</tspan><tspan x="1922" dy="12.6">织交流，重点是交流采取哪些措施来限制草履</tspan><tspan x="1922" dy="12.6">虫的运动速度。组织学生交流，教师对有特色</tspan><tspan x="1922" dy="12.6">的设计方案要给予肯定性评价，让学生进一步</tspan><tspan x="1922" dy="12.6">掌握科学探究的一般方法。)</tspan></text>
<text class="t" x="1922" y="2869">学生表现：各抒己见、畅所欲言。</text>
<text class="t" x="1922" y="2912">教师引导：究竟哪一位同学的说法有道理呢?<tspan x="1922" dy="12.6">下面请同学们看一段录像。要求：总结从录像</tspan><tspan x="1922" dy="12.6">中获取的信息，然后，通过从中获取的信息，</tspan><tspan x="1922" dy="12.6">进一步判断草履虫的身体是否由一个细胞构成</tspan><tspan x="1922" dy="12.6">。</tspan></text>
<text class="t" x="1922" y="3006">(放映草履虫的结构及其生活的录像。)</text>
<text class="t" x="1922" y="3049">学生活动：仔细观看、总结信息、作出判断。</text>
<text class="t" x="1922" y="3091">学生总结：草履虫的身体里有细胞膜、细胞质<tspan x="1922" dy="12.6">、细胞核等结构，也就是一个细胞的结构，所</tspan><tspan x="1922" dy="12.6">以说草履虫的身体是由一个细胞构成的。另外</tspan><tspan x="1922" dy="12.6">，它可以通过身体上的表膜、收集管、伸缩泡</tspan><tspan x="1922" dy="12.6">、口沟、食物泡、胞肛等结构帮助它来完成生</tspan><tspan x="1922" dy="12.6">命活动。</tspan></text>
<text class="t" x="1922" y="3197">教师讲授：所以，我们把这种只由一个细胞构<tspan x="1922" dy="12.6">成的生物称为单细胞生物。其中，由一个细胞</tspan><tspan x="1922" dy="12.6">构成的动物体叫做单细胞动物。例：草履虫;</tspan><tspan x="1922" dy="12.6">由一个细胞构成的植物体叫做单细胞植物，例</tspan><tspan x="1922" dy="12.6">：小球藻。</tspan></text>
<text class="t" x="1922" y="3290">教师承转：其实，像这样的单细胞生物在生物<tspan x="1922" dy="12.6">圈中还有很多，并且与人类的生活、生产关系</tspan><tspan x="1922" dy="12.6">非常密切。你可以通过哪些途径来获取这方面</tspan><tspan x="1922" dy="12.6">的知识?</tspan></text>
<text class="t" x="1922" y="3370">学生回答：可以通过书籍、报刊、杂志、上网<tspan x="1922" dy="12.6">。</tspan></text>
<text class="t" x="1922" y="3425">教师评价：很好，同学们知道通过多种途径查<tspan x="1922" dy="12.6">找资料。希望同学们课下能够通过以上途径，</tspan><tspan x="1922" dy="12.6">亲自查找资料，以小组为单位设计手抄报(或</tspan><tspan x="1922" dy="12.6">电脑打印)在班内展示。</tspan></text>
<text class="t" x="1922" y="3506">教师引导：在这节课上，你有哪些收获?</text>
<text class="t" x="1922" y="3549">学生：积极发言。</text>
<text class="t" x="1643" y="3706">板书设计：</text>
<text class="t" x="1720" y="3593">与人类的关系</text>
<text class="t" x="1720" y="3635">单细胞生物体</text>
<text class="t" x="1720" y="3678">草履虫</text>
<text class="t" x="1720" y="3721">单细胞 生物</text>
<text class="t" x="1720" y="3763">练习巩固：略。</text>
<text class="t" x="1720" y="3806">课后实践：完成试试看。有条件的学校可引导<tspan x="1720" dy="12.6">学生上网查找资料;条件较差的学校可利用挂</tspan><tspan x="1720" dy="12.6">图或课本彩图。</tspan></text>
</g>

<g id="branch4-items">
<text class="t" x="1643" y="3899">【学习目标】</text>
<text class="t" x="1730" y="3874">1、描述花的主要结构。</text>
<text class="t" x="1730" y="3918">2、描述传粉和受精的过 程，养成爱花的良好<tspan x="1730" dy="12.6">习惯。</tspan></text>
<text class="t" x="1643" y="4489">【学习过程】</text>
<text class="t" x="1730" y="4050">一、课前检测：</text>
<text class="t" x="1825" y="3973">1、根的生长靠根尖细胞的_增加细胞的数量<tspan x="1825" dy="12.6">和细胞体积的增大。根生长最快的是区。</tspan></text>
<text class="t" x="1825" y="4029">2、万千枝条及其绿叶，都是由发育成的。</text>
<text class="t" x="1825" y="4071">3、生物体生长发育的基础是细胞的、、。</text>
<text class="t" x="1825" y="4115">4、植物的生长需要最多的无机盐是含、、的<tspan x="1825" dy="12.6">无机盐。</tspan></text>
<text class="t" x="1730" y="4418">二、自主学习，教师 点拨：</text>
<text class="t" x="1876" y="4304">(一)、花的结构。</text>
<text class="t" x="1978" y="4170">认真阅读教材102页完成下列各题。</text>
<text class="t" x="1978" y="4213">1、 认真填写名称。</text>
<text class="t" x="1978" y="4255">2、 观察花的结构，按照由外到内，由下到上<tspan x="1978" dy="12.6">的顺序，发现它由、、、、组成，</tspan></text>
<text class="t" x="1978" y="4311">3、 雄蕊包括、组成。</text>
<text class="t" x="1978" y="4354">4、 雌蕊包括、、三部分。</text>
<text class="t" x="1978" y="4396">5、 花粉在里，卵细胞在，精子在里。</text>
<text class="t" x="1978" y="4439">6、 花的 结构中最重要的 是，包括和。</text>
<text class="t" x="1876" y="4525">(二)、传粉和受精。(阅读教材103页完成下列<tspan x="1876" dy="12.6">问题)</tspan></text>
<text class="t" x="2099" y="4483">1、开花结果。</text>
<text class="t" x="2099" y="4525">2、花粉从花药落到雌蕊柱头上的过程叫。</text>
<text class="t" x="2099" y="4575">3、受精的过程:当花粉落到柱头上后，受到的<tspan x="2099" dy="12.6">刺激，开始萌发长出，其内含有</tspan></text>
<text class="t" x="2321" y="4569">花 粉管穿过、进入子房，到达，花粉管末端<tspan x="2321" dy="12.6">破裂释放出来，与里面的结合，成为。这就是</tspan><tspan x="2321" dy="12.6">。</tspan></text>
<text class="t" x="1730" y="4658">三、梳理知识体系，</text>
<text class="t" x="1844" y="4637">1、 花的主要结构</text>
<text class="t" x="1844" y="4680">2、受精指与结合形成的过程。</text>
<text class="t" x="1730" y="4722">四、拓展延伸</text>
<text class="t" x="1815" y="4722">为 什么说花蕊是花的主要部分?</text>
<text class="t" x="1730" y="4928">五、巩固检测</text>
<text class="t" x="1815" y="4766">1、一朵花的结构中，从外到内依次是：①花<tspan x="1815" dy="12.6">瓣②花萼③雌蕊④雄蕊()</tspan></text>
<text class="t" x="2037" y="4766">A、①②③④B、②①④③C、②③①④D、③<tspan x="2037" dy="12.6">④①②</tspan></text>
<text class="t" x="1815" y="4821">2、花的主要部分是()</text>
<text class="t" x="1932" y="4821">A花冠B花托C雄蕊和雌蕊D花萼</text>
<text class="t" x="1815" y="4864">3、被子植物的卵细胞存在于下列哪一个结构<tspan x="1815" dy="12.6">中()</tspan></text>
<text class="t" x="2037" y="4870">A花粉B花粉管C柱头D胚珠</text>
<text class="t" x="1815" y="4919">4、受精后，子房发育成，胚珠发育成，子房<tspan x="1815" dy="12.6">壁发育成。</tspan></text>
<text class="t" x="1815" y="4975">5、当摘除了一朵花的哪部分，这朵花肯定不<tspan x="1815" dy="12.6">能发育成果实?()</tspan></text>
<text class="t" x="2037" y="4981">A雄蕊B雌蕊C花瓣D花药</text>
<text class="t" x="1815" y="5030">6、一朵豆角花里有6个胚珠，若6个胚珠都能<tspan x="1815" dy="12.6">发育成种子，至少需要花粉()个，精子()个。</tspan></text>
<text class="t" x="2037" y="5036">A1个B3个C6个D12个</text>
<text class="t" x="1815" y="5085">7、从花粉萌发到进入子房前，精子存在于()</text>
<text class="t" x="2029" y="5085">A柱头上B花药中C花粉管中 D胚珠中</text>
</g>

<g id="branch6-items">
<text class="t" x="1672" y="5128">★ 七年级生物学科教学设计5篇</text>
<text class="t" x="1672" y="5171">★ 七年级生物下册教学设计5篇</text>
<text class="t" x="1672" y="5214">★ 2021初一生物下学期教学设计</text>
<text class="t" x="1672" y="5257">★ 新学期七年级生物学课教学设计5篇</text>
<text class="t" x="1672" y="5300">★ 七年级下册生物人教版教案5篇</text>
<text class="t" x="1672" y="5344">★ 七年级生物课程教学设计方案</text>
<text class="t" x="1672" y="5386">★ 初中生物七年级教学设计5篇</text>
</g>

<g id="watermarks">
<text class="wm" x="646" y="514" transform="rotate(-30 646 514)">树图 shutu.cn</text>
<text class="wm" x="646" y="1514" transform="rotate(-30 646 1514)">树图 shutu.cn</text>
<text class="wm" x="646" y="2514" transform="rotate(-30 646 2514)">树图 shutu.cn</text>
<text class="wm" x="646" y="3514" transform="rotate(-30 646 3514)">树图 shutu.cn</text>
<text class="wm" x="646" y="4514" transform="rotate(-30 646 4514)">树图 shutu.cn</text>
<text class="wm" x="646" y="5514" transform="rotate(-30 646 5514)">树图 shutu.cn</text>
<text class="wm" x="646" y="6290" transform="rotate(-30 646 6290)">树图 shutu.cn</text>
<text class="wm" x="1928" y="510" transform="rotate(-30 1928 510)">树图 shutu.cn</text>
<text class="wm" x="1928" y="1510" transform="rotate(-30 1928 1510)">树图 shutu.cn</text>
<text class="wm" x="1928" y="2510" transform="rotate(-30 1928 2510)">树图 shutu.cn</text>
<text class="wm" x="1928" y="3510" transform="rotate(-30 1928 3510)">树图 shutu.cn</text>
<text class="wm" x="1928" y="4510" transform="rotate(-30 1928 4510)">树图 shutu.cn</text>
<text class="wm" x="1928" y="5510" transform="rotate(-30 1928 5510)">树图 shutu.cn</text>
<text class="wm" x="1928" y="6290" transform="rotate(-30 1928 6290)">树图 shutu.cn</text>
</g>
</g>
</svg>
